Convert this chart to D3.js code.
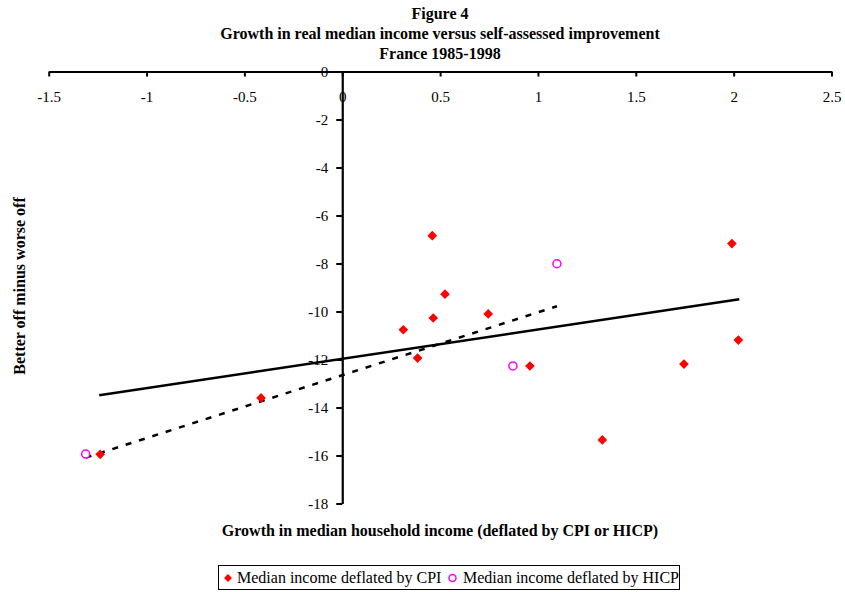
<!DOCTYPE html>
<html>
<head>
<meta charset="utf-8">
<script src="https://cdn.jsdelivr.net/npm/d3@7"></script>
<style>
  html, body { margin: 0; padding: 0; background: #fff; }
  svg { display: block; }
  text { font-family: "Liberation Serif", "Times New Roman", serif; }
</style>
</head>
<body>
<script>
// ---- data ----
const titleLines = ["Figure 4", "Growth in real median income versus self-assessed improvement", "France 1985-1998"];
const xTicks = [-1.5, -1, -0.5, 0, 0.5, 1, 1.5, 2, 2.5];
const yTicks = [0, -2, -4, -6, -8, -10, -12, -14, -16, -18];
const cpiX = [-1.237, -0.415, 0.312, 0.385, 0.46, 0.465, 0.525, 0.746, 0.959, 1.329, 1.746, 1.991, 2.024];
const cpiY = [-15.95, -13.6, -10.76, -11.94, -6.84, -10.27, -9.28, -10.1, -12.27, -15.35, -12.19, -7.17, -11.19];
const hicpX = [-1.311, 0.872, 1.097];
const hicpY = [-15.94, -12.27, -8.01];
// trend lines (endpoints)
const cpiTrendX = [-1.242, 2.029];
const cpiTrendY = [-13.49, -9.49];
const hicpTrendX = [-1.311, 1.097];
const hicpTrendY = [-16.09, -9.78];
const legendLabels = ["Median income deflated by CPI", "Median income deflated by HICP"];
const xTitle = "Growth in median household income (deflated by CPI or HICP)";
const yTitle = "Better off minus worse off";

const W = 845, H = 592;
const svg = d3.select("body").append("svg").attr("width", W).attr("height", H);

const x = d3.scaleLinear().domain([-1.5, 2.5]).range([48.7, 831.5]);
const y = d3.scaleLinear().domain([-18, 0]).range([503.5, 71.5]);
const fmt = d => String(d); // plain hyphen-minus as in the original

// title
svg.append("g").selectAll("text").data(titleLines).join("text")
  .attr("x", 440).attr("y", (d, i) => 18.5 + i * 20)
  .attr("text-anchor", "middle")
  .attr("font-weight", "bold").attr("font-size", 16)
  .text(d => d);

// x axis (at y = 0)
const xAxis = svg.append("g")
  .attr("transform", `translate(0,${y(0)})`)
  .call(d3.axisBottom(x).tickValues(xTicks).tickSize(5).tickSizeOuter(0).tickFormat(fmt));
xAxis.select(".domain").attr("stroke", "#000").attr("stroke-width", 2.2);
xAxis.selectAll(".tick line").attr("stroke", "#000").attr("stroke-width", 2);
xAxis.selectAll(".tick text").attr("y", 30).attr("dy", "0")
  .attr("font-size", 15).attr("font-family", "Liberation Serif, serif").attr("fill", "#000");

// y axis (at x = 0)
const yAxis = svg.append("g")
  .attr("transform", `translate(${x(0)},0)`)
  .call(d3.axisLeft(y).tickValues(yTicks).tickSize(6).tickSizeOuter(0).tickPadding(8).tickFormat(fmt));
yAxis.select(".domain").attr("stroke", "#000").attr("stroke-width", 2.2);
yAxis.selectAll(".tick line").attr("stroke", "#000").attr("stroke-width", 2);
yAxis.selectAll(".tick text").attr("font-size", 15)
  .attr("font-family", "Liberation Serif, serif").attr("fill", "#000");

// trend lines
const line = d3.line().x(d => x(d[0])).y(d => y(d[1]));
svg.append("path")
  .datum(cpiTrendX.map((v, i) => [v, cpiTrendY[i]]))
  .attr("d", line).attr("fill", "none").attr("stroke", "#000").attr("stroke-width", 2.5);
svg.append("path")
  .datum(hicpTrendX.map((v, i) => [v, hicpTrendY[i]]))
  .attr("d", line).attr("fill", "none").attr("stroke", "#000").attr("stroke-width", 2.5)
  .attr("stroke-dasharray", "6,8");

// points
const diamond = d3.symbol().type(d3.symbolDiamond2).size(60);
svg.append("g").selectAll("path").data(cpiX.map((v, i) => [v, cpiY[i]])).join("path")
  .attr("d", diamond)
  .attr("transform", d => `translate(${x(d[0])},${y(d[1])})`)
  .attr("fill", "#ff0000");
svg.append("g").selectAll("circle").data(hicpX.map((v, i) => [v, hicpY[i]])).join("circle")
  .attr("cx", d => x(d[0])).attr("cy", d => y(d[1])).attr("r", 4)
  .attr("fill", "#fff").attr("stroke", "#ff00ff").attr("stroke-width", 1.5);

// axis titles
svg.append("text").attr("x", 440).attr("y", 536).attr("text-anchor", "middle")
  .attr("font-weight", "bold").attr("font-size", 16).text(xTitle);
svg.append("text").attr("transform", "translate(25,286) rotate(-90)").attr("text-anchor", "middle")
  .attr("font-weight", "bold").attr("font-size", 16).text(yTitle);

// legend
const lg = svg.append("g");
lg.append("rect").attr("x", 218.5).attr("y", 565.5).attr("width", 461).attr("height", 24)
  .attr("fill", "#fff").attr("stroke", "#000").attr("stroke-width", 1);
lg.append("path").attr("d", d3.symbol().type(d3.symbolDiamond2).size(40))
  .attr("transform", "translate(228,578)").attr("fill", "#ff0000");
lg.append("text").attr("x", 237).attr("y", 582.5).attr("font-size", 16).text(legendLabels[0]);
lg.append("circle").attr("cx", 452.5).attr("cy", 578).attr("r", 3.5)
  .attr("fill", "#fff").attr("stroke", "#ff00ff").attr("stroke-width", 1.5);
lg.append("text").attr("x", 463).attr("y", 582.5).attr("font-size", 16).text(legendLabels[1]);
</script>
</body>
</html>
